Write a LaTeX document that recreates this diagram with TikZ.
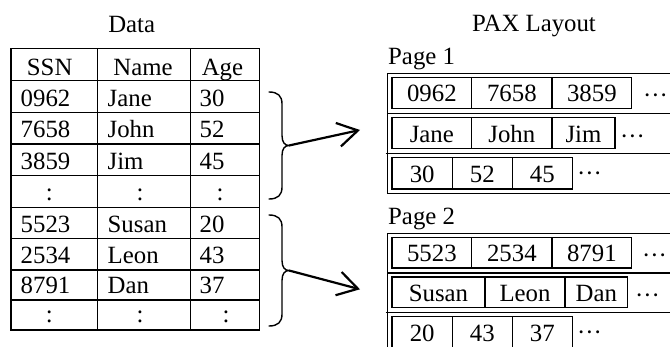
\documentclass[tikz,border=0pt]{standalone}
\usepackage{fontspec}
\setmainfont{Liberation Serif}
\usetikzlibrary{arrows.meta}

\tikzset{
  txt/.style={font=\fontsize{24.8}{28}\selectfont, inner sep=0pt, anchor=base},
  txtw/.style={txt, anchor=base west},
  grid/.style={line width=1.3pt, line cap=rect},
  cellbox/.style={line width=1.3pt},
  pagebox/.style={line width=1.3pt},
  bracepath/.style={line width=1.4pt, line cap=round, line join=round},
  mapsto/.style={line width=2.2pt, -{Straight Barb[length=20pt, width=24pt]}},
}

\begin{document}
\begin{tikzpicture}[x=1pt, y=-1pt]
\useasboundingbox (0,0) rectangle (670,347);
\clip (0,0) rectangle (670,347);

% ---------- row-oriented table ----------
\node[txt] (data) at (131.7,33) {Data};

\draw[grid] (11,48.3) rectangle (259.3,330);
\foreach \xx in {97.3,190.7}
  \draw[grid] (\xx,48.3) -- (\xx,330);
\foreach \yy in {80.7,112.7,144,175.5,207.7,238.3,270,300}
  \draw[grid] (11,\yy) -- (259.3,\yy);

\node[txt] (hssn)  at (49.7,75.2) {SSN};
\node[txt] (hname) at (143,75.2)  {Name};
\node[txt] (hage)  at (222.5,75.2){Age};

\foreach \n/\b/\sa/\sb/\sc in {r1/112.7/0962/Jane/30, r2/144/7658/John/52,
    r3/175.5/3859/Jim/45, r5/238.3/5523/Susan/20, r6/270/2534/Leon/43,
    r7/300/8791/Dan/37}{
  \node[txtw] (\n-ssn)  at (20.5,\b-6)  {\sa};
  \node[txtw] (\n-name) at (107.5,\b-6) {\sb};
  \node[txtw] (\n-age)  at (199.5,\b-6) {\sc};
}
\foreach \n/\b/\xc in {r4/207.7/220, r8/330/226}{
  \node[txt] (\n-ssn)  at (49.3,\b-7) {:};
  \node[txt] (\n-name) at (140,\b-7)  {:};
  \node[txt] (\n-age)  at (\xc,\b-7)  {:};
}

% ---------- braces ----------
\draw[bracepath] (269,92) .. controls (278,92) and (282,96) .. (282,104)
  -- (282,135.5) .. controls (282,142.5) and (285,145.5) .. (289,145.5)
  .. controls (285,145.5) and (282,148.5) .. (282,155.5)
  -- (282,187) .. controls (282,195) and (278,199) .. (269,199);
\draw[bracepath] (269,215) .. controls (278,215) and (282,219) .. (282,227)
  -- (282,260.5) .. controls (282,267.5) and (285,270.5) .. (289,270.5)
  .. controls (285,270.5) and (282,273.5) .. (282,280.5)
  -- (282,314) .. controls (282,322) and (278,326) .. (269,326);

\coordinate (tip1) at (289,145.5);
\coordinate (tip2) at (289,270.5);
\coordinate (page1in) at (360,130);
\coordinate (page2in) at (360,289.3);
\draw[mapsto] (tip1) -- (page1in);
\draw[mapsto] (tip2) -- (page2in);

% ---------- PAX pages ----------
\node[txt] (pax) at (534,32) {PAX Layout};
\node[txtw] (pg1) at (388,65) {Page 1};
\node[txtw] (pg2) at (388,225) {Page 2};

\draw[pagebox] (700,73.5) -- (387.5,73.5) -- (387.5,193.5) -- (700,193.5);
\draw[pagebox] (387.5,113.5) -- (700,113.5);
\draw[pagebox] (385.5,153.5) -- (700,153.5);

\draw[pagebox] (700,233.3) -- (387.5,233.3) -- (387.5,360);
\draw[pagebox] (387.5,272.9) -- (700,272.9);
\draw[pagebox] (385.5,312.5) -- (700,312.5);

% one minipage per attribute: top/bottom, cell borders, values, dots position
\foreach \n/\t/\b/\xb/\xc/\xd/\ta/\tb/\tc/\xe/\dy in {
    p1r1/77.5/108.5/471.7/552/631.7/0962/7658/3859/643/11,
    p1r2/117.8/148.8/471.7/552/615/Jane/John/Jim/620/11,
    p1r3/157.8/189/452.3/512.3/572.3/30/52/45/577/8,
    p2r1/237.3/268/471.7/552/631.7/5523/2534/8791/642/11,
    p2r2/277/307.8/485/565/627.7/Susan/Leon/Dan/635/11,
    p2r3/316.7/347.7/452.3/512.3/572.3/20/43/37/577/8}{
  \draw[cellbox] (392,\t) rectangle (\xd,\b);
  \draw[cellbox] (\xb,\t) -- (\xb,\b);
  \draw[cellbox] (\xc,\t) -- (\xc,\b);
  \node[txt] (\n-a) at ({(392+\xb)/2},\b-6.5) {\ta};
  \node[txt] (\n-b) at ({(\xb+\xc)/2},\b-6.5) {\tb};
  \node[txt] (\n-c) at ({(\xc+\xd)/2},\b-6.5) {\tc};
  \node[txtw] (\n-more) at (\xe,{(\t+\b)/2+\dy}) {···};
}
\end{tikzpicture}
\end{document}
